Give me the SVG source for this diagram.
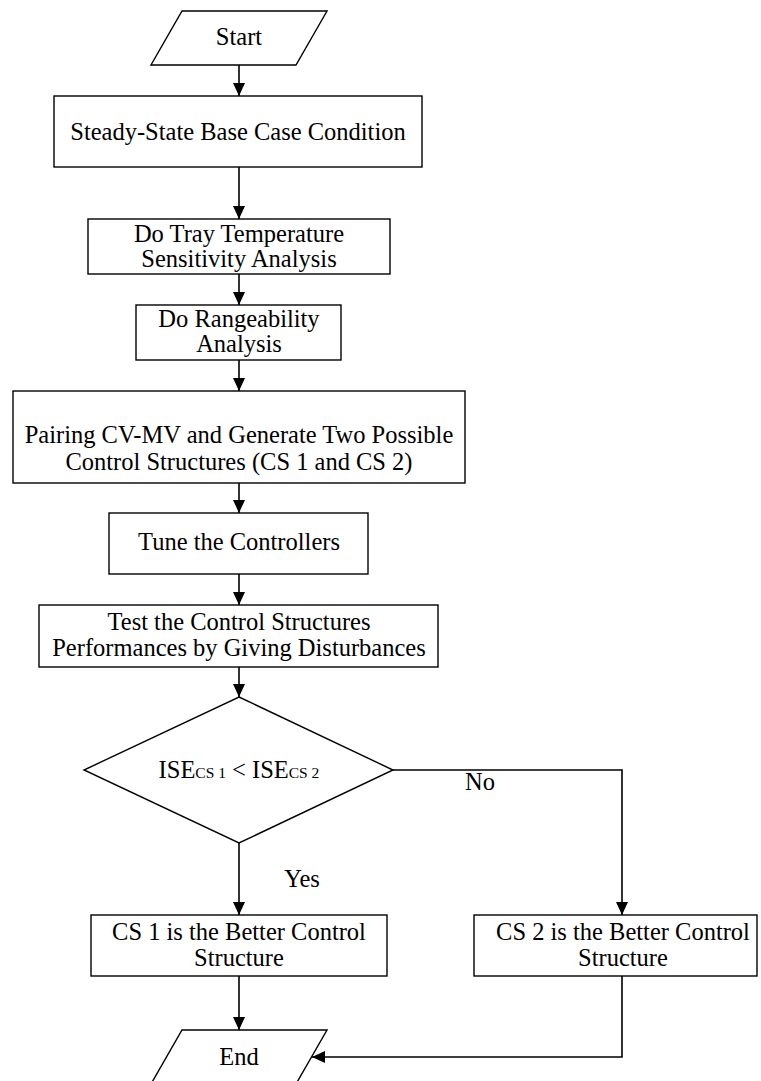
<svg xmlns="http://www.w3.org/2000/svg" width="761" height="1081" viewBox="0 0 761 1081">
<style>
.shape{fill:#fff;stroke:#000;stroke-width:1.4}
.t{font-family:"Liberation Serif","Times New Roman",serif;font-size:24.5px;fill:#000;text-anchor:middle}
.sub{font-size:15.5px}
.c{fill:none;stroke:#000;stroke-width:1.6}
</style>
<defs>
<marker id="ah" viewBox="0 0 13 12" refX="13" refY="6" markerWidth="13" markerHeight="12" markerUnits="userSpaceOnUse" orient="auto">
<path d="M0,0 L13,6 L0,12 z" fill="#000"/>
</marker>
</defs>
<rect width="761" height="1081" fill="#fff"/>
<g id="connectors">
<line class="c" x1="239" y1="65" x2="239" y2="96" marker-end="url(#ah)"/>
<line class="c" x1="239" y1="167" x2="239" y2="219" marker-end="url(#ah)"/>
<line class="c" x1="239" y1="274" x2="239" y2="305" marker-end="url(#ah)"/>
<line class="c" x1="239" y1="360" x2="239" y2="391" marker-end="url(#ah)"/>
<line class="c" x1="239" y1="483" x2="239" y2="513" marker-end="url(#ah)"/>
<line class="c" x1="239" y1="574" x2="239" y2="605" marker-end="url(#ah)"/>
<line class="c" x1="239" y1="667" x2="239" y2="697" marker-end="url(#ah)"/>
<line class="c" x1="239" y1="843" x2="239" y2="915" marker-end="url(#ah)"/>
<polyline class="c" points="393,770 622,770 622,915" marker-end="url(#ah)"/>
<line class="c" x1="239" y1="976" x2="239" y2="1030" marker-end="url(#ah)"/>
<polyline class="c" points="622,976 622,1057 312,1057" marker-end="url(#ah)"/>
<text class="t" x="480" y="790">No</text>
<text class="t" x="302" y="887">Yes</text>
</g>
<g id="start">
<polygon class="shape" points="182,11 327,11 296,65 151,65"/>
<text class="t" x="239" y="45">Start</text>
</g>
<g id="base-case">
<rect class="shape" x="54" y="96" width="368" height="71"/>
<text class="t" x="238" y="140">Steady-State Base Case Condition</text>
</g>
<g id="sensitivity">
<rect class="shape" x="88" y="219" width="302" height="55"/>
<text class="t" x="239" y="242">Do Tray Temperature</text>
<text class="t" x="239" y="267">Sensitivity Analysis</text>
</g>
<g id="rangeability">
<rect class="shape" x="136" y="305" width="205" height="55"/>
<text class="t" x="239" y="327">Do Rangeability</text>
<text class="t" x="239" y="352">Analysis</text>
</g>
<g id="pairing">
<rect class="shape" x="13" y="391" width="452" height="92"/>
<text class="t" x="239" y="443">Pairing CV-MV and Generate Two Possible</text>
<text class="t" x="239" y="470">Control Structures (CS 1 and CS 2)</text>
</g>
<g id="tune">
<rect class="shape" x="109" y="513" width="259" height="61"/>
<text class="t" x="239" y="550">Tune the Controllers</text>
</g>
<g id="test">
<rect class="shape" x="39" y="605" width="399" height="62"/>
<text class="t" x="239" y="630">Test the Control Structures</text>
<text class="t" x="239" y="656">Performances by Giving Disturbances</text>
</g>
<g id="decision">
<polygon class="shape" points="239,697 393,770 239,843 84,770"/>
<text class="t" x="239" y="778">ISE<tspan class="sub">CS 1</tspan> &lt; ISE<tspan class="sub">CS 2</tspan></text>
</g>
<g id="cs1">
<rect class="shape" x="91" y="915" width="296" height="61"/>
<text class="t" x="239" y="940">CS 1 is the Better Control</text>
<text class="t" x="239" y="966">Structure</text>
</g>
<g id="cs2">
<rect class="shape" x="474" y="915" width="283" height="61"/>
<text class="t" x="623" y="940">CS 2 is the Better Control</text>
<text class="t" x="623" y="966">Structure</text>
</g>
<g id="end">
<polygon class="shape" points="182,1030 327,1030 296,1084 151,1084"/>
<text class="t" x="239" y="1065">End</text>
</g>
</svg>
